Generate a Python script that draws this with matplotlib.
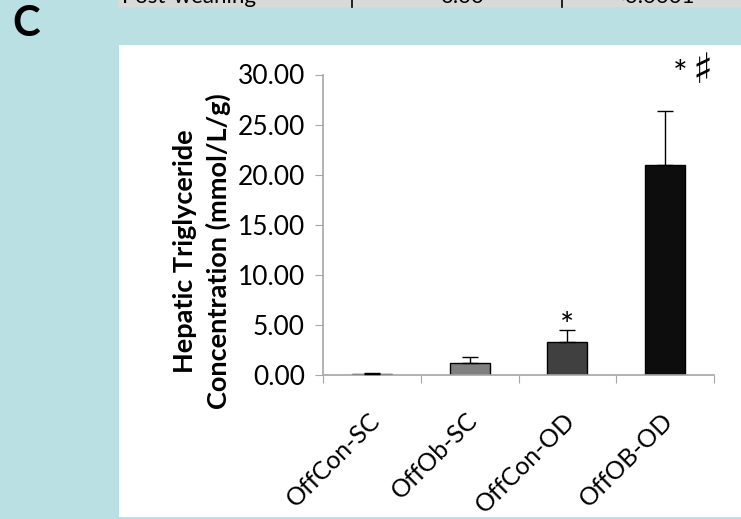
import matplotlib
matplotlib.use("Agg")
import matplotlib.pyplot as plt
from matplotlib.patches import Rectangle
from matplotlib.lines import Line2D

plt.rcParams['font.family'] = ['Lato', 'DejaVu Sans']

# Hepatic triglyceride by offspring group
groups = ["OffCon-SC", "OffOb-SC", "OffCon-OD", "OffOB-OD"]
means = [0.13, 1.17, 3.27, 21.0]
errors = [0.04, 0.60, 1.23, 5.35]
bar_colors = ["#44546A", "#808080", "#404040", "#0D0D0D"]
marks = ["", "", "*", "*\u266F"]
yticks = [0, 5, 10, 15, 20, 25, 30]

W, H = 741, 519
fig = plt.figure(figsize=(W / 100, H / 100), dpi=100)
fig.patch.set_facecolor("#BAE0E3")

# white panel behind the chart
fig.add_artist(Rectangle((119 / W, 1 - 516.5 / H), (W - 119) / W, (516.5 - 45) / H,
                         transform=fig.transFigure, facecolor="white",
                         edgecolor="none", zorder=0))
# table row cut off at the top
fig.add_artist(Rectangle((118 / W, 1 - 7 / H), (W - 118) / W, 7 / H,
                         transform=fig.transFigure, facecolor="#D9D9D9",
                         edgecolor="none", zorder=0))
for xp in (352, 562):
    fig.add_artist(Line2D([xp / W, xp / W], [1 - 7 / H, 1], transform=fig.transFigure,
                          color="black", lw=1.2))
for txt, xp in (("Post-weaning", 122), ("0.00", 440), ("<0.0001", 612)):
    fig.text(xp / W, 1 - 3 / H, txt, fontsize=16, color="black",
             ha="left", va="baseline")

fig.text(12 / W, 1 - 36 / H, "C", fontsize=30, fontweight="bold", ha="left",
         va="baseline")

ax = fig.add_axes([323 / W, 1 - 375 / H, (714 - 323) / W, (375 - 74.5) / H])
ax.set_facecolor("none")

x = list(range(len(groups)))
ax.bar(x, means, width=0.41, color=bar_colors, edgecolor="black", linewidth=1.0,
       zorder=2)
ax.errorbar(x, means, yerr=[[0] * len(errors), errors], fmt="none",
            ecolor="black", elinewidth=1.0, capsize=6, capthick=1.0, zorder=3)

ax.set_xlim(-0.5, len(groups) - 0.5)
ax.set_ylim(0, 30)
ax.set_yticks(yticks)
ax.set_yticklabels([f"{v:.2f}" for v in yticks], fontsize=19)

ax.set_xticks([i + 0.5 for i in range(-1, len(groups))], minor=False)
ax.set_xticklabels([])
ax.tick_params(axis="x", length=6, color="#A6A6A6", direction="out")
ax.tick_params(axis="y", length=6, color="#A6A6A6", direction="out", pad=7)

for i, g in enumerate(groups):
    ax.annotate(g, xy=(i, 0), xycoords=("data", "axes fraction"),
                xytext=(3, -30), textcoords="offset points", rotation=45,
                rotation_mode="anchor", ha="right", va="center", fontsize=18)

for s in ("top", "right"):
    ax.spines[s].set_visible(False)
for s in ("left", "bottom"):
    ax.spines[s].set_color("#A6A6A6")
    ax.spines[s].set_linewidth(1.2)

# significance marks above bars
for i, (m, e, lab) in enumerate(zip(means, errors, marks)):
    if lab == "*":
        ax.annotate(lab, xy=(i, m + e), xytext=(0, -9), textcoords="offset points",
                    ha="center", va="bottom", fontsize=24)
fig.text(673 / W, 1 - 85 / H, "*", fontsize=25, ha="left", va="baseline")
fig.text(692 / W, 1 - 83 / H, "\u266F", fontsize=30, ha="left", va="baseline",
         family=["DejaVu Sans"])

fig.text(185 / W, 1 - 251 / H, "Hepatic Triglyceride", rotation=90, fontsize=19.5,
         fontweight="bold", ha="center", va="center")
fig.text(218 / W, 1 - 251 / H, "Concentration (mmol/L/g)", rotation=90,
         fontsize=19.5, fontweight="bold", ha="center", va="center")

fig.savefig("out.png", dpi=100, facecolor=fig.get_facecolor())
